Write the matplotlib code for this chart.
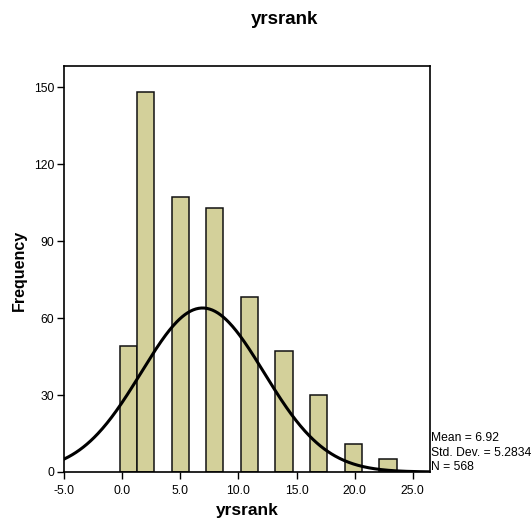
import numpy as np
import matplotlib
matplotlib.use("Agg")
import matplotlib.pyplot as plt

plt.rcParams['font.family'] = ['Liberation Sans', 'DejaVu Sans']

# Data
bin_index = [0, 1, 3, 5, 7, 9, 11, 13, 15]
counts = [49, 148, 107, 103, 68, 47, 30, 11, 5]
bin_start = -0.22
bin_width = 1.49
mean = 6.92
std = 5.2834
n = 568
xticks = [-5, 0, 5, 10, 15, 20, 25]
yticks = [0, 30, 60, 90, 120, 150]

fig = plt.figure(figsize=(5.32, 5.21), dpi=100)
ax = fig.add_axes([64/532, 1-472/521, (429.5-64)/532, (472-66)/521])

lefts = [bin_start + k * bin_width for k in bin_index]
ax.bar(lefts, counts, width=bin_width, align='edge', color='#D3D09A',
       edgecolor='#111111', linewidth=1.1, zorder=2)

xs = np.linspace(-5, 26.44, 400)
ys = n * bin_width / (std * np.sqrt(2 * np.pi)) * np.exp(-0.5 * ((xs - mean) / std) ** 2)
ax.plot(xs, ys, color='black', linewidth=2.2, zorder=3)

ax.set_xlim(-5, 26.44)
ax.set_ylim(0, 158.2)
ax.set_xticks(xticks)
ax.set_xticklabels([f"{v:.1f}" for v in xticks])
ax.set_yticks(yticks)
ax.tick_params(direction='out', length=5, width=1, labelsize=8.7, colors='black')
ax.tick_params(axis='x', pad=4)
ax.tick_params(axis='y', pad=2)
for s in ax.spines.values():
    s.set_linewidth(1.2)

fig.text(247/532, 1-510/521, 'yrsrank', ha='center', va='center', fontsize=12.5, fontweight='bold')
fig.text(19/532, 1-270/521, 'Frequency', ha='center', va='center', rotation=90, fontsize=11.5, fontweight='bold')
fig.text(285/532, 1-20/521, 'yrsrank', ha='center', va='center', fontsize=13.5, fontweight='bold')

fig.text(431/532, 1-438/521, 'Mean = 6.92', ha='left', va='center', fontsize=8.75)
fig.text(431/532, 1-453/521, 'Std. Dev. = 5.2834', ha='left', va='center', fontsize=8.75)
fig.text(431/532, 1-467/521, 'N = 568', ha='left', va='center', fontsize=8.75)

fig.savefig('out.png', dpi=100)
